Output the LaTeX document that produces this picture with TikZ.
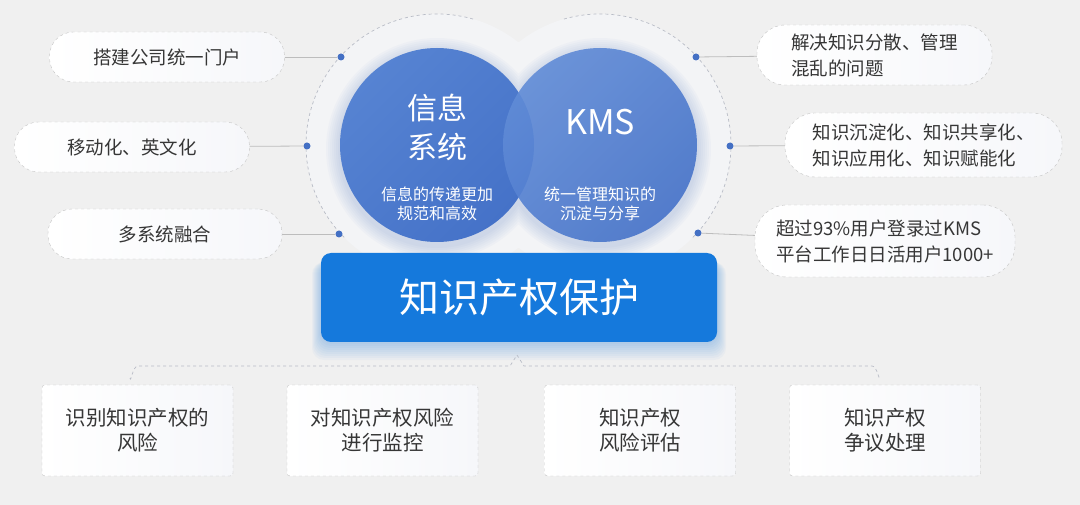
\documentclass[tikz,border=0pt]{standalone}
\usepackage{fontspec}
\setmainfont{Noto Sans CJK SC}
\usepackage{xcolor}
\usetikzlibrary{shapes}
\usetikzlibrary{positioning}
\usetikzlibrary{calc}
\definecolor{bgGray}{HTML}{F0F0F0}
\definecolor{haloWhite}{HTML}{F3F4F6}
\definecolor{pillWhite}{HTML}{F6F7FA}
\definecolor{arcGray}{HTML}{B8BCC6}
\definecolor{pillLine}{HTML}{C4C4C4}
\definecolor{linkGray}{HTML}{BDBDBD}
\definecolor{textGray}{HTML}{363636}
\definecolor{dotBlue}{HTML}{4470C4}
\definecolor{infoLight}{HTML}{5683D2}
\definecolor{infoDark}{HTML}{4572C8}
\definecolor{kmsLight}{HTML}{618CD7}
\definecolor{kmsDark}{HTML}{4673C9}
\definecolor{shadowBlue}{HTML}{5B7FC6}
\definecolor{boxBlue}{HTML}{1579DC}
\tikzset{
  pill/.style={draw=pillLine, dashed, left color=white, right color=pillWhite, rounded corners=24pt, minimum height=50pt, text=textGray, align=left, font=\fontsize{18.5}{26}\selectfont},
  riskbox/.style={draw=pillLine, dashed, left color=white, right color=pillWhite, rounded corners=3pt, minimum width=191pt, minimum height=91pt, align=center, text=textGray, font=\fontsize{20.5}{25}\selectfont},
  hubdot/.style={circle, fill=dotBlue, inner sep=0pt, minimum size=7pt},
  link/.style={draw=linkGray, line width=0.8pt},
  bigcircle/.style={circle, inner sep=0pt, minimum size=194pt},
  circtitle/.style={text=white, align=center, font=\fontsize{30}{39}\selectfont},
  circnote/.style={text=white, align=center, font=\fontsize{16}{18.5}\selectfont},
}

\begin{document}
\begin{tikzpicture}[x=1pt, y=-1pt, node distance=249pt]
  \useasboundingbox (0,0) rectangle (1080,505);
  \fill[bgGray] (0,0) rectangle (1080,505);

  % halo and dashed arcs round the two circles
  \fill[haloWhite] (437,145) circle (131) (600,145) circle (131);
  \draw[arcGray, dashed, line width=0.7pt] (437,145) ++(-74:131) arc[start angle=-74, end angle=-226, radius=131];
  \draw[arcGray, dashed, line width=0.7pt] (600,145) ++(-106:131) arc[start angle=-106, end angle=45, radius=131];
  \foreach \r in {2,4,...,14}
    \fill[shadowBlue, opacity=0.035] (437,149) circle (97+\r) (600,149) circle (97+\r);

  \node[bigcircle, top color=infoLight, bottom color=infoDark, shading angle=45] (infosys) at (437,145) {};
  \node[bigcircle, top color=kmsLight, bottom color=kmsDark, shading angle=45, fill opacity=0.9] (kms) at (600,145) {};
  \node[circtitle, yshift=18pt] (infosys_title) at (infosys.center) {信息\\系统};
  \node[circnote, yshift=-59pt] (infosys_note) at (infosys.center) {信息的传递更加\\规范和高效};
  \node[circtitle, font=\fontsize{34}{39}\selectfont, yshift=23pt] (kms_title) at (kms.center) {KMS};
  \node[circnote, yshift=-59pt] (kms_note) at (kms.center) {统一管理知识的\\沉淀与分享};

  % main box with its glow
  \foreach \s in {2,4,...,18}
    \fill[boxBlue, opacity=0.035, rounded corners=12pt] (321-\s/2,262) rectangle (717+\s/2,342+\s);
  \node[fill=boxBlue, rounded corners=10pt, minimum width=396pt, minimum height=89pt, text=white, font=\fontsize{40}{44}\selectfont] (protect) at (519,297.5) {知识产权保护};

  % left pills
  \node[pill, minimum width=235pt, align=center] (portal) at (167,57) {搭建公司统一门户};
  \node[pill, minimum width=235pt, align=center] (mobile) at (132,147) {移动化、英文化};
  \node[pill, minimum width=234pt, align=center] (merge) at (165,234) {多系统融合};
  \node[hubdot] (portal_dot) at (341,57) {};
  \node[hubdot] (mobile_dot) at (307,146) {};
  \node[hubdot] (merge_dot) at (339,234) {};
  \draw[link] (portal) -- (portal_dot);
  \draw[link] (mobile) -- (mobile_dot);
  \draw[link] (merge) -- (merge_dot);

  % right pills
  \node[pill, minimum width=235pt, minimum height=60pt, rounded corners=28pt] (scatter) at (874.5,55) {解决知识分散、管理\\混乱的问题};
  \node[pill, minimum width=277pt, minimum height=64pt, rounded corners=30pt] (share) at (923.5,145) {知识沉淀化、知识共享化、\\知识应用化、知识赋能化};
  \node[pill, minimum width=260pt, minimum height=72pt, rounded corners=32pt] (usage) at (885,241) {超过93\%用户登录过KMS\\平台工作日日活用户1000+};
  \node[hubdot] (scatter_dot) at (696,57) {};
  \node[hubdot] (share_dot) at (730,146) {};
  \node[hubdot] (usage_dot) at (698,233) {};
  \draw[link] (scatter_dot) -- (scatter);
  \draw[link] (share_dot) -- (share);
  \draw[link] (usage_dot) -- (usage);

  % bracket under the main box
  \coordinate (brace_l) at (130,378);
  \coordinate (brace_r) at (880,377);
  \coordinate (brace_tip) at (517,355);
  \draw[arcGray, dashed, line width=0.7pt] (brace_l) to[out=-80, in=180] (138,366) -- (510,366) -- (brace_tip) -- (524,366) -- (872,366) to[out=0, in=-100] (brace_r);

  % bottom boxes
  \node[riskbox] (identify) at (137.5,430.5) {识别知识产权的\\风险};
  \node[riskbox, node distance=245pt, right of=identify] (monitor) {对知识产权风险\\进行监控};
  \node[riskbox, node distance=257.5pt, right of=monitor] (assess) {知识产权\\风险评估};
  \node[riskbox, node distance=245pt, right of=assess] (dispute) {知识产权\\争议处理};
\end{tikzpicture}
\end{document}
